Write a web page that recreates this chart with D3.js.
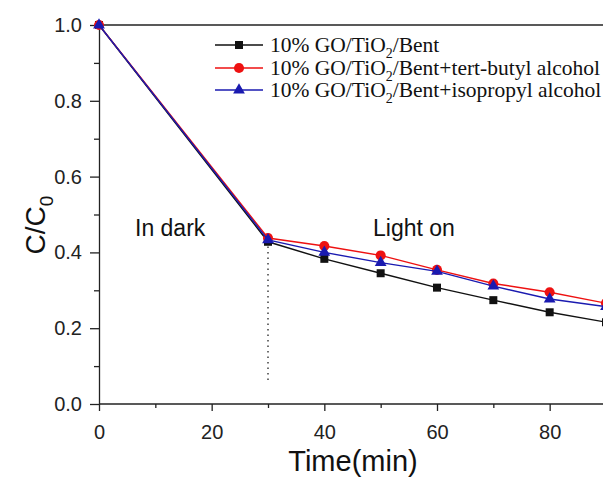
<!DOCTYPE html>
<html>
<head>
<meta charset="utf-8">
<script src="https://cdn.jsdelivr.net/npm/d3@7"></script>
<style>
  body { margin: 0; background: #fff; }
  svg { display: block; }
</style>
</head>
<body>
<script>
// data
const times = [0, 30, 40, 50, 60, 70, 80, 90];
const bent = [1.0, 0.428, 0.383, 0.345, 0.307, 0.274, 0.242, 0.216];
const tba = [1.0, 0.438, 0.417, 0.392, 0.354, 0.318, 0.295, 0.266];
const ipa = [1.0, 0.433, 0.400, 0.373, 0.350, 0.311, 0.277, 0.257];
const seriesNames = ["10% GO/TiO|2|/Bent", "10% GO/TiO|2|/Bent+tert-butyl alcohol", "10% GO/TiO|2|/Bent+isopropyl alcohol"];
const xTicks = [0, 20, 40, 60, 80];
const yTicks = [0.0, 0.2, 0.4, 0.6, 0.8, 1.0];

const canvWidth = 603, canvHeight = 477;
const svg = d3.select("body").append("svg")
    .attr("width", canvWidth)
    .attr("height", canvHeight);

const margin = {top: 25, left: 99};
const xScale = d3.scaleLinear().domain([0, 90]).range([margin.left, 606]);
const yScale = d3.scaleLinear().domain([0, 1.0]).range([404, margin.top]);

const sans = "Arial, 'Liberation Sans', sans-serif";

// top frame line
svg.append("line")
    .attr("x1", margin.left).attr("x2", canvWidth)
    .attr("y1", yScale(1)).attr("y2", yScale(1))
    .attr("stroke", "#222").attr("stroke-width", 1.3);

// x axis, minor ticks first then major
svg.append("g")
    .attr("transform", "translate(0," + yScale(0) + ")")
    .call(d3.axisBottom(xScale).tickValues([10, 30, 50, 70, 90]).tickSize(4).tickFormat(""))
    .call(g => g.select(".domain").remove());
const xAxis = svg.append("g")
    .attr("transform", "translate(0," + yScale(0) + ")")
    .call(d3.axisBottom(xScale).tickValues(xTicks).tickSize(7).tickSizeOuter(0).tickPadding(14).tickFormat(d3.format("d")));
xAxis.select(".domain").attr("d", "M" + margin.left + ",0H" + canvWidth);

// y axis
svg.append("g")
    .attr("transform", "translate(" + margin.left + ",0)")
    .call(d3.axisLeft(yScale).tickValues([0.1, 0.3, 0.5, 0.7, 0.9]).tickSize(5).tickFormat(""))
    .call(g => g.select(".domain").remove());
svg.append("g")
    .attr("transform", "translate(" + margin.left + ",0)")
    .call(d3.axisLeft(yScale).tickValues(yTicks).tickSize(9).tickSizeOuter(0).tickPadding(8).tickFormat(d3.format(".1f")));

svg.selectAll(".tick text")
    .attr("font-family", sans)
    .attr("font-size", "20px")
    .attr("fill", "#222");
svg.selectAll(".domain, .tick line").attr("stroke", "#222").attr("stroke-width", 1.3);

// axis titles
svg.append("text")
    .attr("x", 353).attr("y", 471)
    .attr("font-family", sans)
    .attr("font-size", "29px")
    .attr("text-anchor", "middle")
    .attr("fill", "#111")
    .text("Time(min)");

const yTitle = svg.append("text")
    .attr("transform", "translate(45,225) rotate(-90)")
    .attr("font-family", sans)
    .attr("font-size", "28px")
    .attr("text-anchor", "middle")
    .attr("fill", "#111");
yTitle.append("tspan").text("C/C");
yTitle.append("tspan").attr("font-size", "19px").attr("dy", 8).text("0");

// dotted line at light on
svg.append("line")
    .attr("x1", xScale(30)).attr("x2", xScale(30))
    .attr("y1", yScale(0.43)).attr("y2", yScale(0.055))
    .attr("stroke", "#333").attr("stroke-width", 1.4)
    .attr("stroke-dasharray", "1.5,4");

// annotations
svg.append("text").attr("x", 135).attr("y", 236)
    .attr("font-family", sans)
    .attr("font-size", "23px").attr("fill", "#111")
    .text("In dark");
svg.append("text").attr("x", 373).attr("y", 236)
    .attr("font-family", sans)
    .attr("font-size", "23px").attr("fill", "#111")
    .text("Light on");

const series = [
    {values: bent, color: "#111111", shape: d3.symbolSquare, size: 64},
    {values: tba, color: "#ee1111", shape: d3.symbolCircle, size: 80},
    {values: ipa, color: "#1a1ab0", shape: d3.symbolTriangle, size: 60}
];

const line = d3.line()
    .x((d, i) => xScale(times[i]))
    .y(d => yScale(d));

series.forEach(s => {
    svg.append("path")
        .datum(s.values)
        .attr("d", line)
        .attr("fill", "none")
        .attr("stroke", s.color)
        .attr("stroke-width", 1.4);
    svg.selectAll(null)
        .data(s.values)
        .enter()
        .append("path")
        .attr("d", d3.symbol().type(s.shape).size(s.size))
        .attr("transform", (d, i) => "translate(" + xScale(times[i]) + "," + yScale(d) + ")")
        .attr("fill", s.color);
});

// legend
const legend = svg.append("g");
const legendY = [45, 68, 90];
series.forEach((s, i) => {
    const y = legendY[i];
    legend.append("line")
        .attr("x1", 215).attr("x2", 263).attr("y1", y).attr("y2", y)
        .attr("stroke", s.color).attr("stroke-width", 1.4);
    legend.append("path")
        .attr("d", d3.symbol().type(s.shape).size(s.size))
        .attr("transform", "translate(239," + y + ")")
        .attr("fill", s.color);
    const parts = seriesNames[i].split("|");
    const t = legend.append("text")
        .attr("x", 270).attr("y", y + 7)
        .attr("font-family", "'Liberation Serif', 'Times New Roman', serif")
        .attr("font-size", "21.5px")
        .attr("fill", "#111");
    t.append("tspan").text(parts[0]);
    t.append("tspan").attr("font-size", "14px").attr("dy", 6).text(parts[1]);
    t.append("tspan").attr("dy", -6).text(parts[2]);
});
</script>
</body>
</html>
